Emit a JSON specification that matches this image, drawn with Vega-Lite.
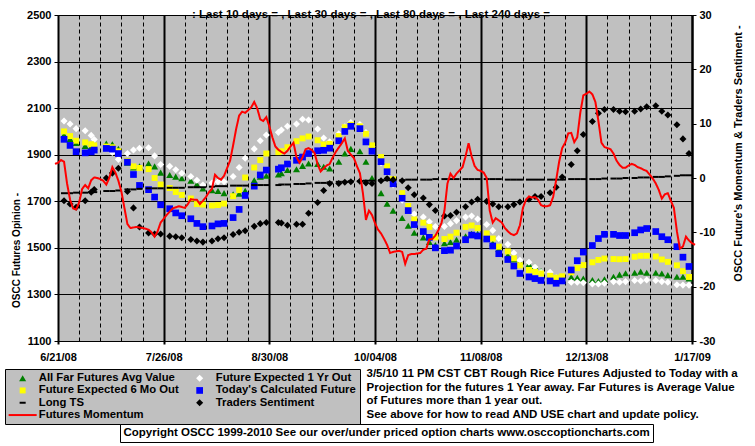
{
"$schema": "https://vega.github.io/schema/vega-lite/v6.json",
"width": 634, "height": 326,
"autosize": "none",
"padding": {"left": 58, "top": 15, "right": 63, "bottom": 105},
"background": "white",
"config": {
  "font": "Liberation Sans",
  "view": {"fill": "#C0C0C0", "stroke": "#808080", "strokeWidth": 1},
  "axis": {"labelFont": "Liberation Sans", "labelFontWeight": "bold", "labelFontSize": 11, "labelColor": "black", "titleFont": "Liberation Sans", "titleFontWeight": "bold", "titleColor": "black", "domainColor": "black", "tickColor": "black", "gridColor": "black", "gridOpacity": 1}
},
"title": {"text": ":  Last 10 days = ,  Last 30 days = ,  Last 80 days = ,  Last 240 days =", "anchor": "middle", "frame": "group", "orient": "top", "offset": 0, "baseline": "alphabetic", "dy": 20, "dx": -4, "font": "Liberation Sans", "fontSize": 11.5, "fontWeight": "bold", "color": "black"},
"data": {"values": [
{"date":"2008-06-23","far":1985,"y1":2045,"m6":2000,"today":1966,"lts":-2.8,"ts":-4.2},
{"date":"2008-06-25","far":1968,"y1":2032,"m6":1980,"today":1940,"lts":-2.8,"ts":-4.8},
{"date":"2008-06-27","far":1950,"y1":2012,"m6":1960,"today":1913,"lts":-2.7,"ts":-5.4},
{"date":"2008-06-30","far":1938,"y1":2003,"m6":1953,"today":1908,"lts":-2.7,"ts":-4.2},
{"date":"2008-07-02","far":1933,"y1":1983,"m6":1945,"today":1912,"lts":-2.6,"ts":-2.6},
{"date":"2008-07-03","far":1935,"y1":1965,"m6":1940,"today":1920,"lts":-2.6,"ts":-2.1},
{"date":"2008-07-07","far":1948,"y1":1930,"m6":1935,"today":1927,"lts":-2.4,"ts":0.0},
{"date":"2008-07-09","far":1945,"y1":1910,"m6":1932,"today":1924,"lts":-2.4,"ts":0.9},
{"date":"2008-07-11","far":1925,"y1":1880,"m6":1915,"today":1905,"lts":-2.3,"ts":1.8},
{"date":"2008-07-14","far":1866,"y1":1905,"m6":1873,"today":1868,"lts":-2.1,"ts":-2.5},
{"date":"2008-07-16","far":1845,"y1":1920,"m6":1850,"today":1815,"lts":-2.1,"ts":-5.5},
{"date":"2008-07-18","far":1850,"y1":1928,"m6":1843,"today":1768,"lts":-2.0,"ts":-9.0},
{"date":"2008-07-21","far":1862,"y1":1930,"m6":1838,"today":1750,"lts":-1.9,"ts":-10.1},
{"date":"2008-07-23","far":1850,"y1":1895,"m6":1800,"today":1718,"lts":-1.9,"ts":-10.3},
{"date":"2008-07-25","far":1823,"y1":1858,"m6":1772,"today":1685,"lts":-1.9,"ts":-10.3},
{"date":"2008-07-28","far":1813,"y1":1850,"m6":1757,"today":1668,"lts":-1.8,"ts":-10.7},
{"date":"2008-07-30","far":1806,"y1":1835,"m6":1740,"today":1650,"lts":-1.8,"ts":-10.8},
{"date":"2008-08-01","far":1799,"y1":1820,"m6":1727,"today":1638,"lts":-1.8,"ts":-11.0},
{"date":"2008-08-04","far":1788,"y1":1806,"m6":1712,"today":1625,"lts":-1.7,"ts":-11.3},
{"date":"2008-08-06","far":1773,"y1":1790,"m6":1688,"today":1605,"lts":-1.7,"ts":-11.6},
{"date":"2008-08-08","far":1755,"y1":1770,"m6":1686,"today":1591,"lts":-1.7,"ts":-11.8},
{"date":"2008-08-11","far":1748,"y1":1778,"m6":1682,"today":1594,"lts":-1.6,"ts":-11.6},
{"date":"2008-08-13","far":1744,"y1":1784,"m6":1684,"today":1603,"lts":-1.5,"ts":-11.2},
{"date":"2008-08-15","far":1735,"y1":1784,"m6":1690,"today":1605,"lts":-1.5,"ts":-11.0},
{"date":"2008-08-18","far":1730,"y1":1806,"m6":1722,"today":1630,"lts":-1.4,"ts":-10.4},
{"date":"2008-08-20","far":1733,"y1":1845,"m6":1748,"today":1665,"lts":-1.4,"ts":-10.0},
{"date":"2008-08-22","far":1745,"y1":1885,"m6":1802,"today":1725,"lts":-1.4,"ts":-9.7},
{"date":"2008-08-25","far":1790,"y1":1925,"m6":1845,"today":1765,"lts":-1.3,"ts":-8.9},
{"date":"2008-08-27","far":1805,"y1":1960,"m6":1877,"today":1813,"lts":-1.3,"ts":-8.4},
{"date":"2008-08-29","far":1810,"y1":1985,"m6":1905,"today":1834,"lts":-1.3,"ts":-8.2},
{"date":"2008-09-02","far":1815,"y1":1996,"m6":1911,"today":1838,"lts":-1.3,"ts":-8.2},
{"date":"2008-09-03","far":1820,"y1":2006,"m6":1915,"today":1844,"lts":-1.2,"ts":-8.3},
{"date":"2008-09-05","far":1834,"y1":2022,"m6":1932,"today":1860,"lts":-1.2,"ts":-8.7},
{"date":"2008-09-08","far":1838,"y1":2032,"m6":1958,"today":1876,"lts":-1.1,"ts":-8.5},
{"date":"2008-09-10","far":1852,"y1":2052,"m6":1970,"today":1890,"lts":-1.1,"ts":-8.5},
{"date":"2008-09-12","far":1862,"y1":2049,"m6":1978,"today":1905,"lts":-1.0,"ts":-6.5},
{"date":"2008-09-15","far":1860,"y1":2010,"m6":1962,"today":1917,"lts":-0.9,"ts":-4.5},
{"date":"2008-09-17","far":1848,"y1":1972,"m6":1944,"today":1919,"lts":-0.9,"ts":-2.3},
{"date":"2008-09-19","far":1841,"y1":1956,"m6":1947,"today":1928,"lts":-0.8,"ts":-1.0},
{"date":"2008-09-22","far":1870,"y1":1990,"m6":1980,"today":1960,"lts":-0.7,"ts":-1.0},
{"date":"2008-09-24","far":1905,"y1":2020,"m6":2018,"today":2000,"lts":-0.7,"ts":-0.8},
{"date":"2008-09-26","far":1925,"y1":2038,"m6":2029,"today":2022,"lts":-0.6,"ts":-0.7},
{"date":"2008-09-29","far":1915,"y1":2030,"m6":2022,"today":2012,"lts":-0.6,"ts":-0.6},
{"date":"2008-10-01","far":1870,"y1":1995,"m6":1990,"today":1955,"lts":-0.5,"ts":-0.9},
{"date":"2008-10-03","far":1800,"y1":1935,"m6":1940,"today":1915,"lts":-0.5,"ts":-1.0},
{"date":"2008-10-06","far":1735,"y1":1865,"m6":1890,"today":1870,"lts":-0.4,"ts":-0.5},
{"date":"2008-10-08","far":1690,"y1":1820,"m6":1850,"today":1827,"lts":-0.4,"ts":-0.1},
{"date":"2008-10-10","far":1660,"y1":1770,"m6":1795,"today":1775,"lts":-0.4,"ts":-0.3},
{"date":"2008-10-13","far":1628,"y1":1705,"m6":1735,"today":1713,"lts":-0.4,"ts":-0.5},
{"date":"2008-10-15","far":1595,"y1":1668,"m6":1680,"today":1660,"lts":-0.3,"ts":-1.8},
{"date":"2008-10-17","far":1565,"y1":1645,"m6":1622,"today":1600,"lts":-0.3,"ts":-3.1},
{"date":"2008-10-20","far":1545,"y1":1632,"m6":1608,"today":1570,"lts":-0.3,"ts":-3.7},
{"date":"2008-10-22","far":1525,"y1":1612,"m6":1590,"today":1545,"lts":-0.3,"ts":-4.9},
{"date":"2008-10-24","far":1512,"y1":1592,"m6":1545,"today":1500,"lts":-0.2,"ts":-6.0},
{"date":"2008-10-27","far":1520,"y1":1592,"m6":1538,"today":1488,"lts":-0.2,"ts":-7.0},
{"date":"2008-10-29","far":1525,"y1":1604,"m6":1548,"today":1490,"lts":-0.2,"ts":-6.9},
{"date":"2008-10-31","far":1535,"y1":1617,"m6":1565,"today":1508,"lts":-0.2,"ts":-6.3},
{"date":"2008-11-03","far":1550,"y1":1632,"m6":1590,"today":1535,"lts":-0.2,"ts":-5.3},
{"date":"2008-11-05","far":1560,"y1":1637,"m6":1596,"today":1555,"lts":-0.2,"ts":-4.4},
{"date":"2008-11-07","far":1560,"y1":1624,"m6":1585,"today":1551,"lts":-0.2,"ts":-3.9},
{"date":"2008-11-10","far":1545,"y1":1600,"m6":1562,"today":1538,"lts":-0.2,"ts":-4.3},
{"date":"2008-11-12","far":1520,"y1":1575,"m6":1540,"today":1508,"lts":-0.2,"ts":-4.8},
{"date":"2008-11-14","far":1495,"y1":1540,"m6":1505,"today":1475,"lts":-0.2,"ts":-5.3},
{"date":"2008-11-17","far":1468,"y1":1515,"m6":1485,"today":1450,"lts":-0.3,"ts":-5.3},
{"date":"2008-11-19","far":1450,"y1":1478,"m6":1455,"today":1422,"lts":-0.3,"ts":-4.9},
{"date":"2008-11-21","far":1440,"y1":1447,"m6":1425,"today":1390,"lts":-0.3,"ts":-4.4},
{"date":"2008-11-24","far":1430,"y1":1438,"m6":1405,"today":1375,"lts":-0.3,"ts":-3.9},
{"date":"2008-11-26","far":1420,"y1":1418,"m6":1397,"today":1368,"lts":-0.3,"ts":-3.4},
{"date":"2008-11-28","far":1400,"y1":1395,"m6":1390,"today":1360,"lts":-0.3,"ts":-3.4},
{"date":"2008-12-01","far":1380,"y1":1395,"m6":1380,"today":1358,"lts":-0.3,"ts":-2.7},
{"date":"2008-12-03","far":1370,"y1":1372,"m6":1372,"today":1348,"lts":-0.3,"ts":-1.7},
{"date":"2008-12-05","far":1372,"y1":1360,"m6":1378,"today":1358,"lts":-0.3,"ts":0.2},
{"date":"2008-12-08","far":1375,"y1":1352,"m6":1395,"today":1405,"lts":-0.2,"ts":2.5},
{"date":"2008-12-10","far":1372,"y1":1352,"m6":1413,"today":1445,"lts":-0.2,"ts":5.0},
{"date":"2008-12-12","far":1368,"y1":1350,"m6":1426,"today":1482,"lts":-0.2,"ts":8.0},
{"date":"2008-12-15","far":1362,"y1":1345,"m6":1438,"today":1510,"lts":-0.2,"ts":10.4},
{"date":"2008-12-17","far":1358,"y1":1345,"m6":1448,"today":1540,"lts":-0.2,"ts":11.9},
{"date":"2008-12-19","far":1365,"y1":1348,"m6":1454,"today":1558,"lts":-0.1,"ts":12.6},
{"date":"2008-12-22","far":1376,"y1":1355,"m6":1452,"today":1558,"lts":-0.1,"ts":12.6},
{"date":"2008-12-24","far":1385,"y1":1352,"m6":1451,"today":1553,"lts":-0.1,"ts":12.3},
{"date":"2008-12-26","far":1391,"y1":1355,"m6":1452,"today":1553,"lts":0.0,"ts":12.2},
{"date":"2008-12-29","far":1393,"y1":1360,"m6":1462,"today":1565,"lts":0.0,"ts":12.3},
{"date":"2008-12-31","far":1398,"y1":1358,"m6":1466,"today":1577,"lts":0.1,"ts":12.7},
{"date":"2009-01-02","far":1393,"y1":1362,"m6":1466,"today":1583,"lts":0.1,"ts":13.1},
{"date":"2009-01-05","far":1393,"y1":1360,"m6":1463,"today":1570,"lts":0.2,"ts":13.3},
{"date":"2009-01-07","far":1390,"y1":1355,"m6":1450,"today":1548,"lts":0.2,"ts":12.3},
{"date":"2009-01-09","far":1383,"y1":1352,"m6":1440,"today":1535,"lts":0.3,"ts":11.6},
{"date":"2009-01-12","far":1376,"y1":1342,"m6":1425,"today":1505,"lts":0.4,"ts":9.8},
{"date":"2009-01-14","far":1376,"y1":1340,"m6":1400,"today":1460,"lts":0.5,"ts":7.2},
{"date":"2009-01-16","far":1369,"y1":1340,"m6":1375,"today":1420,"lts":0.5,"ts":4.5}
]},
"resolve": {"scale": {"y": "independent"}, "axis": {"x": "independent"}},
"layer": [
{
 "encoding": {"x": {"field": "date", "type": "temporal",
   "scale": {"type": "utc", "nice": false, "domain": [{"year":2008,"month":6,"date":21,"utc":true},{"year":2009,"month":1,"date":17,"utc":true}]},
   "axis": {"orient": "bottom", "labelExpr": "utcFormat(datum.value, '%-m/%d/%y')",
     "values": [{"year":2008,"month":6,"date":21,"utc":true},{"year":2008,"month":7,"date":26,"utc":true},{"year":2008,"month":8,"date":30,"utc":true},{"year":2008,"month":10,"date":4,"utc":true},{"year":2008,"month":11,"date":8,"utc":true},{"year":2008,"month":12,"date":13,"utc":true},{"year":2009,"month":1,"date":17,"utc":true}],
     "grid": true, "gridWidth": 2, "gridColor": "black", "tickSize": 3, "tickWidth": 2, "labelPadding": 7, "labelFlush": false, "labelOverlap": false, "labelFontSize": 11, "domainWidth": 1,
     "title": ["3/5/10 11 PM CST CBT Rough Rice Futures Adjusted to Today with a", "Projection for the futures 1 Year away. Far Futures is Average Value", "of Futures more than 1 year out.", "See above for how to read AND USE chart and update policy."],
     "titleX": 308, "titleY": 26.5, "titleAlign": "left", "titleBaseline": "top", "titleAngle": 0, "titleFontSize": 11.5, "titleLineHeight": 13.6}}},
 "layer": [
  {"mark": {"type": "point", "filled": true, "size": 121, "opacity": 1},
   "encoding": {
    "y": {"field": "far", "type": "quantitative", "scale": {"domain": [1100, 2500], "nice": false, "zero": false},
      "axis": {"orient": "left", "values": [1100,1200,1300,1400,1500,1600,1700,1800,1900,2000,2100,2200,2300,2400,2500], "format": "d", "labelExpr": "datum.value % 200 == 100 ? datum.label : ''", "grid": true, "gridColor": "black", "tickSize": 4, "tickOpacity": {"condition": {"test": "datum.value % 200 == 100", "value": 1}, "value": 0}, "labelPadding": 3, "title": "OSCC Futures Opinion -", "titleAngle": 270, "titleX": -42, "titleY": 235, "titleAlign": "center", "titleBaseline": "middle", "titleFontSize": 10}},
    "color": {"datum": "All Far Futures Avg Value", "type": "nominal",
      "scale": {"domain": ["All Far Futures Avg Value","Future Expected 6 Mo Out","Long TS","Futures Momentum","Future Expected 1 Yr Out","Today's Calculated Future","Traders Sentiment"], "range": ["#008000","#FFFF00","#000000","#FF0000","#FFFFFF","#0000FF","#000000"]},
      "legend": {"title": null, "orient": "none", "legendX": -53, "legendY": 354, "direction": "vertical", "columns": 2, "fillColor": "#C0C0C0", "strokeColor": "black", "padding": 3.5, "labelFont": "Liberation Sans", "labelFontSize": 11.3, "labelFontWeight": "bold", "labelColor": "black", "labelLimit": 400, "symbolOffset": 8.5, "labelOffset": 10.5, "symbolSize": 121, "symbolStrokeWidth": 0, "symbolOpacity": 1, "columnPadding": 6, "rowPadding": 0.3}},
    "shape": {"datum": "All Far Futures Avg Value", "type": "nominal",
      "scale": {"domain": ["All Far Futures Avg Value","Future Expected 6 Mo Out","Long TS","Futures Momentum","Future Expected 1 Yr Out","Today's Calculated Future","Traders Sentiment"],
        "range": ["M0,-0.55L0.64,0.55L-0.64,0.55Z", "M-0.54,-0.54L0.54,-0.54L0.54,0.54L-0.54,0.54Z", "M-0.55,-0.18L0.55,-0.18L0.55,0.18L-0.55,0.18Z", "M-2.55,-0.18L2.55,-0.18L2.55,0.18L-2.55,0.18Z", "M0,-0.64L0.64,0L0,0.64L-0.64,0Z", "M-0.61,-0.61L0.61,-0.61L0.61,0.61L-0.61,0.61Z", "M0,-0.64L0.64,0L0,0.64L-0.64,0Z"]}}
   }},
  {"mark": {"type": "point", "filled": true, "size": 121, "opacity": 1},
   "encoding": {
    "y": {"field": "y1", "type": "quantitative", "scale": {"domain": [1100, 2500], "nice": false, "zero": false}},
    "color": {"datum": "Future Expected 1 Yr Out", "type": "nominal"},
    "shape": {"datum": "Future Expected 1 Yr Out", "type": "nominal"}}},
  {"mark": {"type": "point", "filled": true, "size": 121, "opacity": 1},
   "encoding": {
    "y": {"field": "m6", "type": "quantitative", "scale": {"domain": [1100, 2500], "nice": false, "zero": false}},
    "color": {"datum": "Future Expected 6 Mo Out", "type": "nominal"},
    "shape": {"datum": "Future Expected 6 Mo Out", "type": "nominal"}}},
  {"mark": {"type": "point", "filled": true, "size": 121, "opacity": 1},
   "encoding": {
    "y": {"field": "today", "type": "quantitative", "scale": {"domain": [1100, 2500], "nice": false, "zero": false}},
    "color": {"datum": "Today's Calculated Future", "type": "nominal"},
    "shape": {"datum": "Today's Calculated Future", "type": "nominal"}}}
 ]
},
{
 "encoding": {"x": {"field": "date", "type": "temporal",
   "scale": {"type": "utc", "nice": false, "domain": [{"year":2008,"month":6,"date":21,"utc":true},{"year":2009,"month":1,"date":17,"utc":true}]},
   "axis": {"orient": "top", "labels": false, "ticks": false, "domain": false, "title": null, "grid": true, "gridDash": [4, 3], "gridColor": "black", "gridWidth": 1,
     "values": [{"year":2008,"month":6,"date":28,"utc":true},{"year":2008,"month":7,"date":5,"utc":true},{"year":2008,"month":7,"date":12,"utc":true},{"year":2008,"month":7,"date":19,"utc":true},{"year":2008,"month":8,"date":2,"utc":true},{"year":2008,"month":8,"date":9,"utc":true},{"year":2008,"month":8,"date":16,"utc":true},{"year":2008,"month":8,"date":23,"utc":true},{"year":2008,"month":9,"date":6,"utc":true},{"year":2008,"month":9,"date":13,"utc":true},{"year":2008,"month":9,"date":20,"utc":true},{"year":2008,"month":9,"date":27,"utc":true},{"year":2008,"month":10,"date":11,"utc":true},{"year":2008,"month":10,"date":18,"utc":true},{"year":2008,"month":10,"date":25,"utc":true},{"year":2008,"month":11,"date":1,"utc":true},{"year":2008,"month":11,"date":15,"utc":true},{"year":2008,"month":11,"date":22,"utc":true},{"year":2008,"month":11,"date":29,"utc":true},{"year":2008,"month":12,"date":6,"utc":true},{"year":2008,"month":12,"date":20,"utc":true},{"year":2008,"month":12,"date":27,"utc":true},{"year":2009,"month":1,"date":3,"utc":true},{"year":2009,"month":1,"date":10,"utc":true}]}}},
 "layer": [
  {"mark": {"type": "point", "filled": true, "size": 121, "opacity": 1},
   "encoding": {
    "y": {"field": "lts", "type": "quantitative", "scale": {"domain": [-30, 30], "nice": false, "zero": false},
      "axis": {"orient": "right", "values": [-30,-20,-10,0,10,20,30], "labelExpr": "toString(datum.value)", "grid": false, "tickSize": 4, "labelPadding": 3, "domainWidth": 2, "title": "OSCC Future's Momentum & Traders Sentiment -", "titleAngle": 270, "titleX": 46.5, "titleY": 138, "titleAlign": "center", "titleBaseline": "middle", "titleFontSize": 11}},
    "color": {"datum": "Long TS", "type": "nominal"},
    "shape": {"datum": "Long TS", "type": "nominal"}}},
  {"mark": {"type": "point", "filled": true, "size": 121, "opacity": 1},
   "encoding": {
    "y": {"field": "ts", "type": "quantitative", "scale": {"domain": [-30, 30], "nice": false, "zero": false}},
    "color": {"datum": "Traders Sentiment", "type": "nominal"},
    "shape": {"datum": "Traders Sentiment", "type": "nominal"}}},
  {"data": {"values": [
{"date":"2008-06-20","mom":2.6},{"date":"2008-06-21","mom":2.8},{"date":"2008-06-22","mom":3.3},{"date":"2008-06-23","mom":3.0},{"date":"2008-06-24","mom":-1.0},{"date":"2008-06-25","mom":-4.0},{"date":"2008-06-26","mom":-5.6},{"date":"2008-06-27","mom":-5.8},{"date":"2008-06-28","mom":-4.5},{"date":"2008-06-29","mom":-2.0},{"date":"2008-06-30","mom":-1.3},
{"date":"2008-07-01","mom":-1.9},{"date":"2008-07-02","mom":-0.4},{"date":"2008-07-03","mom":0.1},{"date":"2008-07-04","mom":0.0},{"date":"2008-07-05","mom":-0.2},{"date":"2008-07-06","mom":-0.5},{"date":"2008-07-07","mom":-1.2},{"date":"2008-07-08","mom":0.0},{"date":"2008-07-09","mom":2.0},{"date":"2008-07-10","mom":1.0},{"date":"2008-07-11","mom":-0.5},{"date":"2008-07-12","mom":-2.5},{"date":"2008-07-13","mom":-5.5},{"date":"2008-07-14","mom":-8.5},{"date":"2008-07-15","mom":-9.2},{"date":"2008-07-17","mom":-9.0},{"date":"2008-07-19","mom":-9.2},{"date":"2008-07-21","mom":-9.5},{"date":"2008-07-22","mom":-10.0},{"date":"2008-07-23","mom":-10.8},{"date":"2008-07-24","mom":-9.8},{"date":"2008-07-25","mom":-8.2},{"date":"2008-07-27","mom":-6.8},{"date":"2008-07-29","mom":-5.6},{"date":"2008-07-31","mom":-5.2},
{"date":"2008-08-02","mom":-5.5},{"date":"2008-08-03","mom":-4.8},{"date":"2008-08-04","mom":-3.9},{"date":"2008-08-05","mom":-4.0},{"date":"2008-08-06","mom":-4.0},{"date":"2008-08-07","mom":-4.8},{"date":"2008-08-08","mom":-4.2},{"date":"2008-08-09","mom":-3.5},{"date":"2008-08-10","mom":-2.6},{"date":"2008-08-11","mom":-2.0},{"date":"2008-08-12","mom":0.6},{"date":"2008-08-13","mom":0.0},{"date":"2008-08-14","mom":-0.3},{"date":"2008-08-15","mom":0.4},{"date":"2008-08-16","mom":1.8},{"date":"2008-08-17","mom":3.2},{"date":"2008-08-18","mom":6.0},{"date":"2008-08-19","mom":9.0},{"date":"2008-08-20","mom":11.5},{"date":"2008-08-21","mom":12.2},{"date":"2008-08-22","mom":12.0},{"date":"2008-08-23","mom":12.5},{"date":"2008-08-24","mom":13.0},{"date":"2008-08-25","mom":14.0},{"date":"2008-08-26","mom":12.8},{"date":"2008-08-27","mom":10.8},{"date":"2008-08-28","mom":10.5},{"date":"2008-08-29","mom":11.2},{"date":"2008-08-30","mom":9.5},{"date":"2008-08-31","mom":7.5},
{"date":"2008-09-01","mom":5.8},{"date":"2008-09-02","mom":5.2},{"date":"2008-09-03","mom":4.8},{"date":"2008-09-04","mom":4.5},{"date":"2008-09-05","mom":5.0},{"date":"2008-09-06","mom":5.8},{"date":"2008-09-07","mom":6.5},{"date":"2008-09-08","mom":3.8},{"date":"2008-09-09","mom":2.8},{"date":"2008-09-10","mom":3.8},{"date":"2008-09-11","mom":5.3},{"date":"2008-09-12","mom":5.5},{"date":"2008-09-13","mom":5.2},{"date":"2008-09-14","mom":4.6},{"date":"2008-09-15","mom":2.5},{"date":"2008-09-16","mom":1.2},{"date":"2008-09-17","mom":1.8},{"date":"2008-09-18","mom":2.3},{"date":"2008-09-19","mom":2.6},{"date":"2008-09-20","mom":3.8},{"date":"2008-09-21","mom":4.8},{"date":"2008-09-22","mom":5.6},{"date":"2008-09-23","mom":6.4},{"date":"2008-09-24","mom":7.3},{"date":"2008-09-25","mom":5.0},{"date":"2008-09-26","mom":4.3},{"date":"2008-09-27","mom":3.7},{"date":"2008-09-28","mom":2.2},{"date":"2008-09-29","mom":0.9},{"date":"2008-09-30","mom":-2.8},
{"date":"2008-10-01","mom":-7.7},{"date":"2008-10-02","mom":-6.0},{"date":"2008-10-03","mom":-6.8},{"date":"2008-10-04","mom":-8.3},{"date":"2008-10-05","mom":-9.5},{"date":"2008-10-06","mom":-10.2},{"date":"2008-10-07","mom":-11.2},{"date":"2008-10-08","mom":-12.3},{"date":"2008-10-09","mom":-13.8},{"date":"2008-10-10","mom":-13.6},{"date":"2008-10-11","mom":-13.5},{"date":"2008-10-12","mom":-13.4},{"date":"2008-10-13","mom":-13.6},{"date":"2008-10-14","mom":-15.8},{"date":"2008-10-15","mom":-14.2},{"date":"2008-10-16","mom":-14.0},{"date":"2008-10-17","mom":-14.0},{"date":"2008-10-18","mom":-13.9},{"date":"2008-10-19","mom":-13.8},{"date":"2008-10-20","mom":-13.2},{"date":"2008-10-21","mom":-13.0},{"date":"2008-10-22","mom":-11.3},{"date":"2008-10-23","mom":-11.2},{"date":"2008-10-24","mom":-10.6},{"date":"2008-10-25","mom":-9.6},{"date":"2008-10-26","mom":-8.3},{"date":"2008-10-27","mom":-6.0},{"date":"2008-10-28","mom":-1.0},{"date":"2008-10-29","mom":0.8},{"date":"2008-10-30","mom":0.0},{"date":"2008-10-31","mom":0.8},
{"date":"2008-11-01","mom":1.4},{"date":"2008-11-02","mom":2.0},{"date":"2008-11-03","mom":4.0},{"date":"2008-11-04","mom":6.4},{"date":"2008-11-05","mom":4.0},{"date":"2008-11-06","mom":2.2},{"date":"2008-11-07","mom":1.5},{"date":"2008-11-08","mom":1.3},{"date":"2008-11-09","mom":1.0},{"date":"2008-11-10","mom":0.0},{"date":"2008-11-11","mom":-6.0},{"date":"2008-11-12","mom":-8.2},{"date":"2008-11-13","mom":-7.4},{"date":"2008-11-14","mom":-7.8},{"date":"2008-11-15","mom":-8.2},{"date":"2008-11-16","mom":-9.2},{"date":"2008-11-17","mom":-9.8},{"date":"2008-11-18","mom":-10.3},{"date":"2008-11-19","mom":-10.5},{"date":"2008-11-20","mom":-10.2},{"date":"2008-11-21","mom":-8.7},{"date":"2008-11-22","mom":-5.5},{"date":"2008-11-23","mom":-4.0},{"date":"2008-11-24","mom":-3.4},{"date":"2008-11-25","mom":-3.6},{"date":"2008-11-26","mom":-3.5},{"date":"2008-11-27","mom":-4.0},{"date":"2008-11-28","mom":-5.0},{"date":"2008-11-29","mom":-5.2},{"date":"2008-11-30","mom":-5.2},
{"date":"2008-12-01","mom":-5.0},{"date":"2008-12-02","mom":-3.5},{"date":"2008-12-03","mom":-0.4},{"date":"2008-12-04","mom":3.0},{"date":"2008-12-05","mom":5.5},{"date":"2008-12-06","mom":6.5},{"date":"2008-12-07","mom":8.2},{"date":"2008-12-08","mom":8.3},{"date":"2008-12-09","mom":6.6},{"date":"2008-12-10","mom":7.5},{"date":"2008-12-11","mom":12.0},{"date":"2008-12-12","mom":15.2},{"date":"2008-12-13","mom":15.5},{"date":"2008-12-14","mom":15.9},{"date":"2008-12-15","mom":15.4},{"date":"2008-12-16","mom":14.0},{"date":"2008-12-17","mom":10.5},{"date":"2008-12-18","mom":6.5},{"date":"2008-12-19","mom":5.7},{"date":"2008-12-20","mom":5.5},{"date":"2008-12-21","mom":5.3},{"date":"2008-12-22","mom":4.5},{"date":"2008-12-23","mom":3.2},{"date":"2008-12-24","mom":2.4},{"date":"2008-12-25","mom":1.9},{"date":"2008-12-26","mom":1.9},{"date":"2008-12-27","mom":2.3},{"date":"2008-12-28","mom":2.6},{"date":"2008-12-29","mom":2.4},{"date":"2008-12-30","mom":2.0},{"date":"2008-12-31","mom":1.8},
{"date":"2009-01-01","mom":1.5},{"date":"2009-01-02","mom":1.3},{"date":"2009-01-03","mom":0.6},{"date":"2009-01-04","mom":-0.1},{"date":"2009-01-05","mom":-1.0},{"date":"2009-01-06","mom":-2.2},{"date":"2009-01-07","mom":-3.8},{"date":"2009-01-08","mom":-3.0},{"date":"2009-01-09","mom":-2.8},{"date":"2009-01-10","mom":-4.2},{"date":"2009-01-11","mom":-5.5},{"date":"2009-01-12","mom":-9.8},{"date":"2009-01-13","mom":-13.0},{"date":"2009-01-14","mom":-12.6},{"date":"2009-01-15","mom":-10.8},{"date":"2009-01-16","mom":-11.5},{"date":"2009-01-17","mom":-12.0},{"date":"2009-01-18","mom":-12.3}
  ]},
   "mark": {"type": "line", "strokeWidth": 2, "opacity": 1},
   "encoding": {
    "y": {"field": "mom", "type": "quantitative", "scale": {"domain": [-30, 30], "nice": false, "zero": false}},
    "color": {"datum": "Futures Momentum", "type": "nominal"},
    "strokeDash": {"datum": "Copyright OSCC 1999-2010 See our over/under priced option charts www.osccoptioncharts.com", "type": "nominal",
      "legend": {"title": null, "orient": "none", "legendX": 62, "legendY": 409, "fillColor": "white", "strokeColor": "black", "padding": 3, "symbolSize": 0, "symbolStrokeWidth": 0, "symbolOpacity": 0, "labelOffset": -11, "labelFont": "Liberation Sans", "labelFontSize": 11.5, "labelFontWeight": "bold", "labelColor": "black", "labelLimit": 700}}}}
 ]
}
]
}
